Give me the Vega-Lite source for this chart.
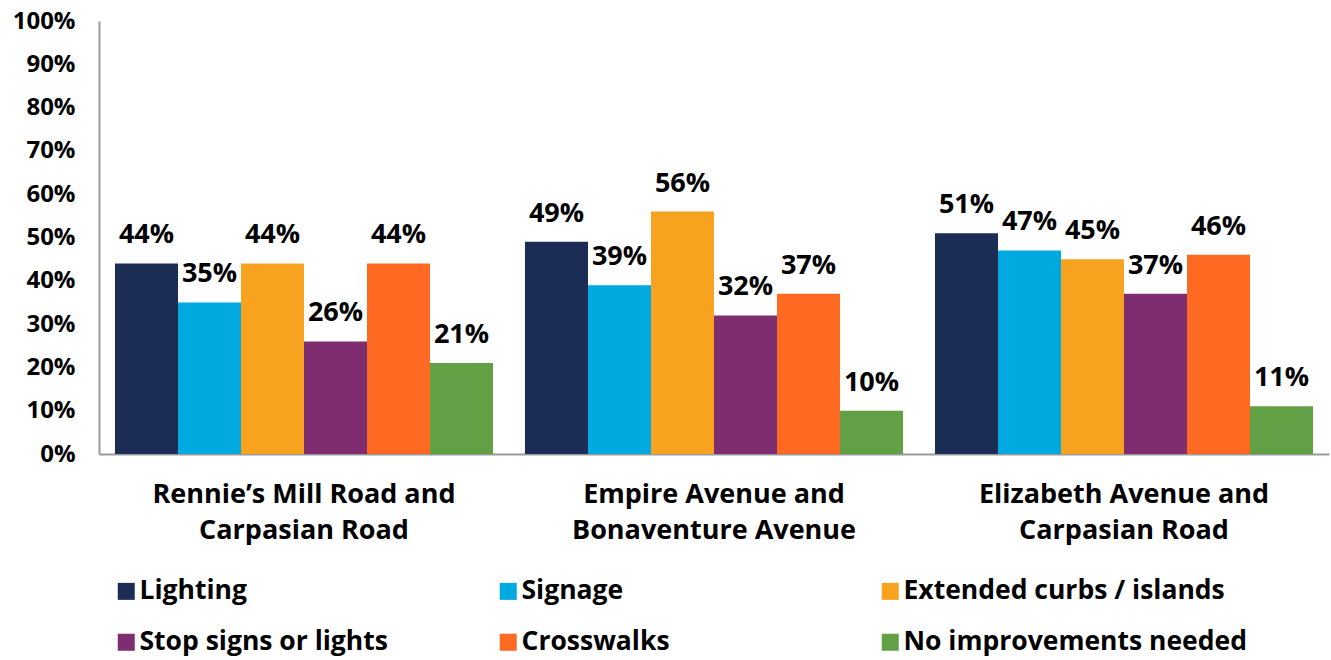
{
  "$schema": "https://vega.github.io/schema/vega-lite/v6.json",
  "width": 1230,
  "height": 433,
  "padding": {"left": 12, "top": 9, "right": 1, "bottom": 0},
  "background": "white",
  "config": {
    "view": {"stroke": null},
    "font": "Open Sans"
  },
  "data": {
    "values": [
      {"location": "Rennie’s Mill Road and|Carpasian Road", "improvement": "Lighting", "share": 0.44},
      {"location": "Rennie’s Mill Road and|Carpasian Road", "improvement": "Signage", "share": 0.35},
      {"location": "Rennie’s Mill Road and|Carpasian Road", "improvement": "Extended curbs / islands", "share": 0.44},
      {"location": "Rennie’s Mill Road and|Carpasian Road", "improvement": "Stop signs or lights", "share": 0.26},
      {"location": "Rennie’s Mill Road and|Carpasian Road", "improvement": "Crosswalks", "share": 0.44},
      {"location": "Rennie’s Mill Road and|Carpasian Road", "improvement": "No improvements needed", "share": 0.21},
      {"location": "Empire Avenue and|Bonaventure Avenue", "improvement": "Lighting", "share": 0.49},
      {"location": "Empire Avenue and|Bonaventure Avenue", "improvement": "Signage", "share": 0.39},
      {"location": "Empire Avenue and|Bonaventure Avenue", "improvement": "Extended curbs / islands", "share": 0.56},
      {"location": "Empire Avenue and|Bonaventure Avenue", "improvement": "Stop signs or lights", "share": 0.32},
      {"location": "Empire Avenue and|Bonaventure Avenue", "improvement": "Crosswalks", "share": 0.37},
      {"location": "Empire Avenue and|Bonaventure Avenue", "improvement": "No improvements needed", "share": 0.10},
      {"location": "Elizabeth Avenue and|Carpasian Road", "improvement": "Lighting", "share": 0.51},
      {"location": "Elizabeth Avenue and|Carpasian Road", "improvement": "Signage", "share": 0.47},
      {"location": "Elizabeth Avenue and|Carpasian Road", "improvement": "Extended curbs / islands", "share": 0.45},
      {"location": "Elizabeth Avenue and|Carpasian Road", "improvement": "Stop signs or lights", "share": 0.37},
      {"location": "Elizabeth Avenue and|Carpasian Road", "improvement": "Crosswalks", "share": 0.46},
      {"location": "Elizabeth Avenue and|Carpasian Road", "improvement": "No improvements needed", "share": 0.11}
    ]
  },
  "encoding": {
    "x": {
      "field": "location",
      "type": "nominal",
      "sort": null,
      "scale": {"paddingInner": 0.078, "paddingOuter": 0.039},
      "axis": {
        "title": null,
        "labelAngle": 0,
        "labelExpr": "split(datum.label, '|')",
        "labelFont": "Open Sans",
        "labelFontWeight": "bold",
        "labelFontSize": 27,
        "labelColor": "black",
        "labelLineHeight": 36,
        "labelPadding": 27,
        "labelLimit": 400,
        "ticks": false,
        "domainColor": "#9a9a9a",
        "domainWidth": 2
      }
    },
    "xOffset": {
      "field": "improvement",
      "type": "nominal",
      "sort": ["Lighting", "Signage", "Extended curbs / islands", "Stop signs or lights", "Crosswalks", "No improvements needed"],
      "scale": {"paddingInner": 0, "paddingOuter": 0}
    },
    "y": {
      "field": "share",
      "type": "quantitative",
      "scale": {"domain": [0, 1]},
      "axis": {
        "title": null,
        "format": ".0%",
        "values": [0, 0.1, 0.2, 0.3, 0.4, 0.5, 0.6, 0.7, 0.8, 0.9, 1],
        "labelOverlap": false,
        "grid": false,
        "ticks": false,
        "labelFont": "Open Sans",
        "labelFontWeight": "bold",
        "labelFontSize": 24,
        "labelColor": "black",
        "labelPadding": 24,
        "domainColor": "#9a9a9a",
        "domainWidth": 2
      }
    }
  },
  "layer": [
    {
      "mark": {"type": "bar"},
      "encoding": {
        "color": {
          "field": "improvement",
          "type": "nominal",
          "sort": ["Lighting", "Signage", "Extended curbs / islands", "Stop signs or lights", "Crosswalks", "No improvements needed"],
          "scale": {
            "domain": ["Lighting", "Signage", "Extended curbs / islands", "Stop signs or lights", "Crosswalks", "No improvements needed"],
            "range": ["#1B2D55", "#00A9DF", "#F8A31F", "#7F2D70", "#FE6A22", "#61A045"]
          },
          "legend": {
            "title": null,
            "orient": "none",
            "legendX": 14,
            "legendY": 557,
            "direction": "horizontal",
            "columns": 3,
            "gridAlign": "all",
            "columnPadding": 12,
            "rowPadding": 24,
            "padding": 0,
            "symbolType": "square",
            "symbolSize": 289,
            "symbolStrokeWidth": 0,
            "labelFont": "Open Sans",
            "labelFontWeight": "bold",
            "labelFontSize": 26.5,
            "labelColor": "black",
            "labelOffset": 0,
            "labelLimit": 400
          }
        }
      }
    },
    {
      "mark": {"type": "text", "baseline": "alphabetic", "dy": -20, "font": "Open Sans", "fontWeight": "bold", "fontSize": 27, "color": "black"},
      "encoding": {
        "text": {"field": "share", "type": "quantitative", "format": ".0%"}
      }
    }
  ]
}
